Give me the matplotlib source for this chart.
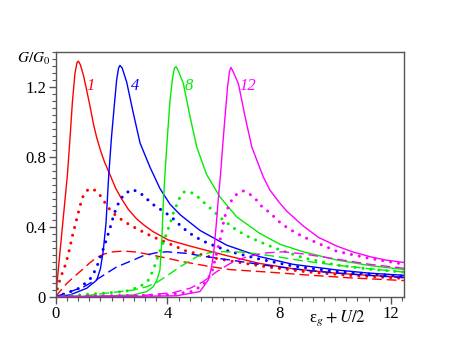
import numpy as np
import matplotlib
matplotlib.use("Agg")
import matplotlib.pyplot as plt
from matplotlib.ticker import MultipleLocator

plt.rcParams['mathtext.fontset'] = 'stix'
plt.rcParams['font.family'] = ['Liberation Serif', 'DejaVu Serif']

# U values labelling the peaks
peak_labels = ['1', '4', '8', '12']
label_x = [1.25, 2.86, 4.76, 6.87]
label_y = [1.21, 1.21, 1.21, 1.21]
colors = ['#ff0000', '#0000ff', '#00ee00', '#ff00ff']

# solid curves
red_solid_x = [0, 0.15, 0.3, 0.42, 0.5, 0.6, 0.69, 0.76, 0.81, 0.88, 0.99, 1.1, 1.23, 1.35, 1.47, 1.6,
               1.75, 1.94, 2.15, 2.36, 2.6, 2.9, 3.2, 3.49, 4.03, 4.92, 6.12, 7.31, 8.5, 10.0, 11.2, 12.5]
red_solid_y = [0, 0.25, 0.5, 0.70, 0.88, 1.12, 1.28, 1.34, 1.35, 1.33, 1.27, 1.19, 1.09, 0.99, 0.91, 0.84,
               0.77, 0.70, 0.62, 0.56, 0.50, 0.445, 0.405, 0.372, 0.325, 0.285, 0.235, 0.19, 0.16, 0.135,
               0.122, 0.112]
blue_solid_x = [0, 0.51, 1.11, 1.47, 1.6, 1.7, 1.8, 1.9, 2.0, 2.1, 2.18, 2.25, 2.3, 2.38, 2.54,
                2.78, 3.02, 3.38, 3.73, 4.09, 4.45, 5.16, 6.12, 7.31, 8.5, 10.06, 11.2, 12.5]
blue_solid_y = [0, 0.01, 0.048, 0.095, 0.16, 0.26, 0.42, 0.70, 0.92, 1.10, 1.24, 1.31, 1.325, 1.31,
                1.23, 1.05, 0.88, 0.74, 0.62, 0.53, 0.47, 0.38, 0.295, 0.229, 0.185, 0.153, 0.135, 0.122]
green_solid_x = [0, 1.5, 2.78, 3.26, 3.49, 3.62, 3.73, 3.8, 3.85, 3.91, 4.0, 4.09, 4.18, 4.25, 4.31,
                 4.4, 4.57, 4.81, 5.05, 5.4, 5.88, 6.48, 7.31, 8.03, 8.86, 10.06, 11.25, 12.5]
green_solid_y = [0, 0.003, 0.01, 0.029, 0.057, 0.095, 0.152, 0.33, 0.53, 0.70, 0.92, 1.12, 1.25,
                 1.31, 1.318, 1.29, 1.22, 1.03, 0.857, 0.70, 0.571, 0.457, 0.362, 0.3, 0.257, 0.21,
                 0.178, 0.155]
magenta_solid_x = [0, 3.0, 4.33, 5.16, 5.46, 5.58, 5.66, 5.76, 5.83, 5.9, 5.98, 6.06, 6.15, 6.22, 6.27,
                   6.35, 6.54, 6.78, 7.02, 7.43, 7.67, 8.0, 8.27, 8.86, 9.4, 10.06, 10.6, 11.25, 11.8, 12.5]
magenta_solid_y = [0, 0.002, 0.005, 0.029, 0.095, 0.17, 0.26, 0.438, 0.58, 0.70, 0.87, 1.03, 1.2, 1.29,
                   1.314, 1.29, 1.22, 1.03, 0.857, 0.686, 0.61, 0.54, 0.49, 0.405, 0.34, 0.29, 0.258,
                   0.229, 0.21, 0.195]

# dotted curves
red_dot_x = [0, 0.09, 0.21, 0.33, 0.45, 0.6, 0.73, 0.87, 0.99, 1.15, 1.29, 1.45, 1.59, 1.88, 2.18,
             2.66, 2.96, 3.28, 3.61, 3.97, 4.66, 5.76, 6.12, 7.5, 9.0, 10.5, 12.5]
red_dot_y = [0, 0.067, 0.124, 0.175, 0.24, 0.35, 0.43, 0.52, 0.58, 0.612, 0.62, 0.605, 0.58, 0.51, 0.46,
             0.41, 0.385, 0.358, 0.334, 0.31, 0.262, 0.219, 0.208, 0.172, 0.142, 0.122, 0.104]
blue_dot_x = [0, 0.39, 0.87, 1.29, 1.47, 1.65, 1.8, 1.94, 2.06, 2.18, 2.33, 2.48, 2.75, 3.02, 3.26,
              3.55, 3.85, 4.15, 4.51, 4.81, 5.16, 5.46, 6.2, 7.3, 8.5, 10.0, 11.2, 12.5]
blue_dot_y = [0, 0.02, 0.05, 0.111, 0.171, 0.248, 0.32, 0.39, 0.457, 0.514, 0.56, 0.591, 0.614, 0.595,
              0.56, 0.52, 0.49, 0.455, 0.4, 0.362, 0.328, 0.305, 0.26, 0.215, 0.175, 0.145, 0.13, 0.117]
green_dot_x = [0, 2.48, 3.02, 3.32, 3.49, 3.7, 3.9, 4.03, 4.12, 4.21, 4.45, 4.6, 4.8, 5.0, 5.34, 5.58,
               6.0, 6.48, 6.9, 7.31, 7.85, 8.86, 10.06, 11.25, 12.5]
green_dot_y = [0, 0.029, 0.057, 0.095, 0.152, 0.25, 0.33, 0.39, 0.43, 0.48, 0.571, 0.6, 0.6, 0.585,
               0.534, 0.5, 0.438, 0.381, 0.343, 0.314, 0.278, 0.223, 0.181, 0.157, 0.14]
magenta_dot_x = [0, 4.0, 4.87, 5.28, 5.58, 5.7, 5.82, 5.94, 6.02, 6.12, 6.3, 6.48, 6.71, 6.95, 7.19,
                 7.37, 7.67, 8.03, 8.33, 8.86, 9.4, 10.06, 11.25, 12.5]
magenta_dot_y = [0, 0.01, 0.029, 0.067, 0.134, 0.21, 0.286, 0.362, 0.438, 0.495, 0.553, 0.587, 0.606,
                 0.587, 0.553, 0.518, 0.48, 0.425, 0.39, 0.343, 0.305, 0.26, 0.219, 0.185]

# dashed curves
red_dash_x = [0, 0.15, 0.39, 0.7, 0.99, 1.23, 1.47, 1.75, 2.06, 2.4, 2.8, 3.14, 3.73, 4.57, 5.4, 6.24,
              7.67, 9.0, 10.5, 12.5]
red_dash_y = [0, 0.03, 0.075, 0.12, 0.16, 0.195, 0.225, 0.245, 0.257, 0.261, 0.257, 0.248, 0.229, 0.2,
              0.176, 0.155, 0.14, 0.124, 0.108, 0.092]
blue_dash_x = [0, 0.63, 0.99, 1.59, 1.82, 2.18, 2.78, 3.14, 3.61, 3.97, 4.69, 5.4, 6.24, 7.5, 9.0,
               10.5, 12.5]
blue_dash_y = [0, 0.035, 0.055, 0.11, 0.134, 0.17, 0.21, 0.235, 0.252, 0.257, 0.248, 0.229, 0.21,
               0.18, 0.15, 0.13, 0.108]
green_dash_x = [0, 1.0, 1.82, 2.78, 3.26, 3.6, 3.85, 4.45, 5.05, 5.5, 5.9, 6.71, 7.67, 8.86, 10.06,
                11.25, 12.5]
green_dash_y = [0, 0.004, 0.02, 0.038, 0.057, 0.08, 0.105, 0.171, 0.229, 0.252, 0.258, 0.255, 0.235,
                0.205, 0.18, 0.16, 0.14]
magenta_dash_x = [0, 3.0, 4.21, 4.81, 5.28, 5.76, 6.24, 6.84, 7.55, 8.15, 8.86, 10.06, 11.25, 12.5]
magenta_dash_y = [0, 0.005, 0.023, 0.048, 0.086, 0.143, 0.19, 0.229, 0.251, 0.257, 0.245, 0.215,
                  0.185, 0.162]

solid = [(red_solid_x, red_solid_y), (blue_solid_x, blue_solid_y),
         (green_solid_x, green_solid_y), (magenta_solid_x, magenta_solid_y)]
dotted = [(red_dot_x, red_dot_y), (blue_dot_x, blue_dot_y),
          (green_dot_x, green_dot_y), (magenta_dot_x, magenta_dot_y)]
dashed = [(red_dash_x, red_dash_y), (blue_dash_x, blue_dash_y),
          (green_dash_x, green_dash_y), (magenta_dash_x, magenta_dash_y)]

fig = plt.figure(figsize=(4.51, 3.49), dpi=100)
ax = fig.add_axes([0.1235, 0.15, 0.7725, 0.70])

for i, c in enumerate(colors):
    ax.plot(*dashed[i], color=c, lw=1.0, linestyle=(0, (7, 3.5)))
    ax.plot(*dotted[i], color=c, lw=2.2, linestyle=(0, (0.01, 2.6)),
            dash_capstyle='round')
    ax.plot(*solid[i], color=c, lw=1.0)
    ax.text(label_x[i], label_y[i], peak_labels[i], color=c, fontsize=12,
            style='italic', ha='center', va='center')

ax.set_xlim(0, 12.47)
ax.set_ylim(0, 1.4)
ax.xaxis.set_major_locator(MultipleLocator(4))
ax.xaxis.set_minor_locator(MultipleLocator(0.4))
ax.yaxis.set_major_locator(MultipleLocator(0.4))
ax.yaxis.set_minor_locator(MultipleLocator(0.04))
ax.set_yticks([0, 0.4, 0.8, 1.2])
ax.set_yticklabels(['0', '0.4', '0.8', '1.2'])
ax.set_xticks([0, 4, 8, 12])
ax.set_xticklabels(['0', '4', '8', '12'])
for s in ax.spines.values():
    s.set_color('#555555')
    s.set_linewidth(1.0)
ax.tick_params(which='both', direction='out', color='#555555', labelsize=12, top=False, right=False)
ax.tick_params(which='major', length=5, width=1.0, pad=2)
ax.tick_params(which='minor', length=3, width=0.8)

ax.text(-0.016, 0.956, r'$G/G_0$', transform=ax.transAxes, ha='right', va='baseline', fontsize=11)
# upright epsilon, italic subscript and U/2
ax.text(0.726, -0.1035, r'ε$_g+U/2$', transform=ax.transAxes, ha='left', va='baseline',
        fontsize=12)

fig.savefig('out.png', dpi=100)
